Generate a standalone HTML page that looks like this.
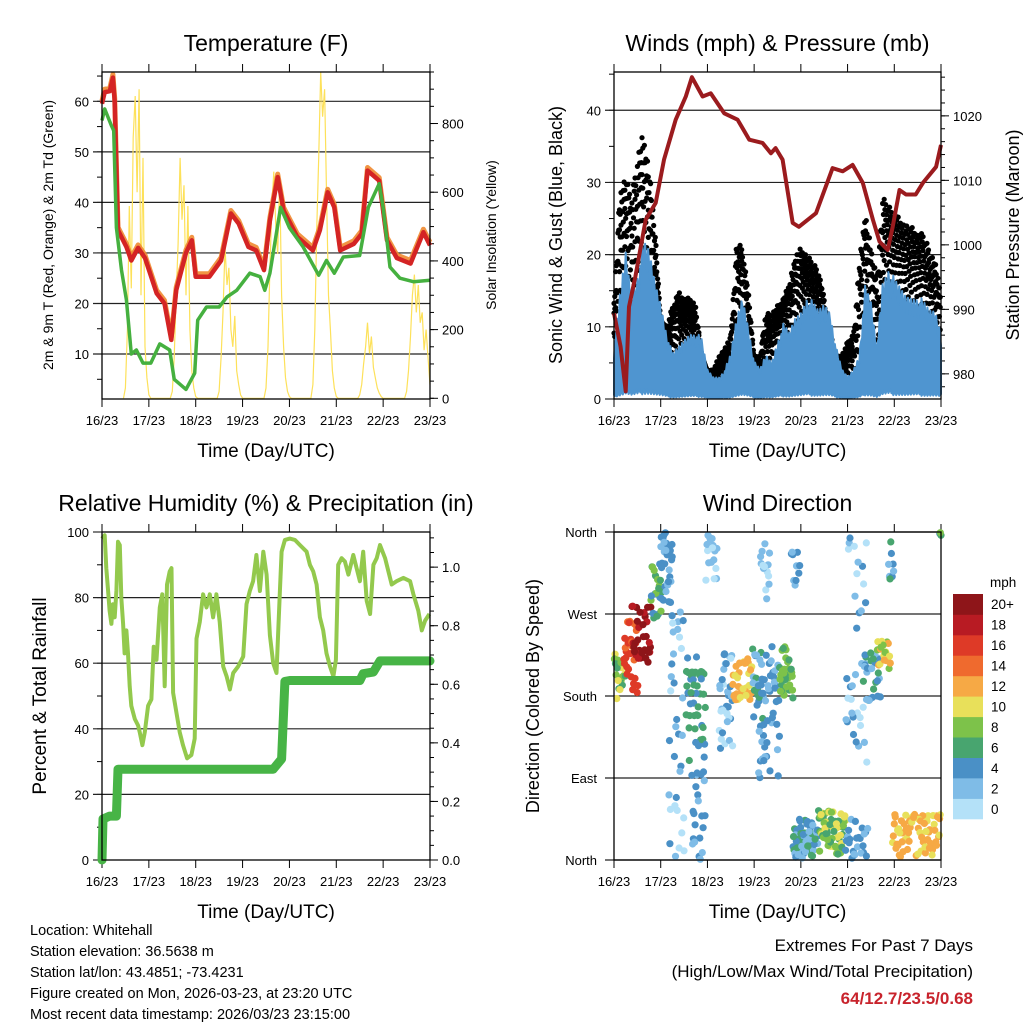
<!DOCTYPE html>
<html><head><meta charset="utf-8"><style>
html,body{margin:0;padding:0;background:#fff}
svg{display:block;font-family:"Liberation Sans",sans-serif}
</style></head><body>
<svg id="s" width="1024" height="1024" viewBox="0 0 1024 1024">
<g id="bottomtext" font-size="14.5" fill="#000">
<text x="30" y="935">Location: Whitehall</text>
<text x="30" y="956">Station elevation: 36.5638 m</text>
<text x="30" y="977">Station lat/lon: 43.4851; -73.4231</text>
<text x="30" y="998">Figure created on Mon, 2026-03-23, at 23:20 UTC</text>
<text x="30" y="1019">Most recent data timestamp: 2026/03/23 23:15:00</text>
</g>
<g text-anchor="end">
<text x="973" y="951" font-size="17">Extremes For Past 7 Days</text>
<text x="973" y="977" font-size="17">(High/Low/Max Wind/Total Precipitation)</text>
<text x="973" y="1004" font-size="17" font-weight="bold" fill="#c8232c">64/12.7/23.5/0.68</text>
</g>
</svg>
<script>
// ---------- DATA ----------
const dayLabels=["16/23","17/23","18/23","19/23","20/23","21/23","22/23","23/23"];
const tempHours=[0,1.4,4,5.6,6.5,8.2,12.5,15,18.5,22,28,32,35.5,38,43,46,48,55,61,66,70,75,79,83,86,90,93,100,108,111.6,115.6,119,122,129,133,136,139,142,146,151,158,164.6,168];
const tempVals=[59.5,61.8,62,64.7,60,34.5,31.2,28.5,31,29,22,20,12.8,22.6,30,32.5,25.3,25.3,28.5,37.8,35.8,31.2,30.5,26.6,36.4,45,38.4,33.2,30.5,34.5,42,39,30.5,31.8,33.8,46.3,45.3,44.3,32.5,29,27.9,34.1,31.5];
const tdHours=[0,1.4,4.8,6,7.4,10,12.5,15,17.6,21,25,29.6,34.7,37,43,47.5,49,53.5,60,64,69,75.7,81,83.4,86,91.5,96,103,111,115,119,123.6,132,136.4,142,144,147.5,152.6,159.5,168];
const tdVals=[56.2,58.5,55.2,54.2,35,26.6,20.7,10,10.8,8.2,8.2,12,10.8,5,3,6.2,16.7,19.3,19.3,21.3,22.6,26,25.3,22.6,26,39,35,31.2,25.6,28.5,26,29.2,29.5,39,43.7,39,27.2,25,24.3,24.6];
const solarDays=[
[0,30,200,560,320,760,880,600,900,300,700,150,60,10,0],
[0,20,120,300,450,700,520,620,300,560,200,80,30,5,0],
[0,20,120,250,440,330,380,200,150,240,80,40,10,0,0],
[0,30,150,380,560,660,500,420,640,300,150,60,20,5,0],
[0,40,200,500,700,950,820,900,600,300,200,80,30,5,0],
[0,10,40,100,150,220,130,180,90,60,30,15,5,0,0],
[0,20,80,180,300,360,250,330,220,250,140,200,120,40]];
const presHours=[0,3.4,6,7.7,11,16.3,21.4,25.7,31.7,36.9,40,45.5,49.7,56.6,63.5,69.5,76.3,80.6,83,86.6,91.8,95,103.8,112.3,117.5,122.6,127.8,133,136.4,140.6,143.2,146.7,150,155,158.7,165.5,168];
const presVals=[989.4,984.2,977.3,990.4,995.1,1003.9,1006.5,1013.2,1019.4,1023,1026,1023,1023.5,1020.4,1019.4,1016.3,1015.8,1014.2,1015,1013.2,1003.4,1002.8,1004.9,1011.9,1011.4,1012.4,1009.6,1003.9,1000.5,999.2,1002.8,1008.5,1007.8,1007.8,1009.6,1012.1,1015.5];
const windHi=[7,14,20,14,17,21,20,16,13,9,6,7,8,9,9,8,4,3,3,4,6,11,14,10,5,4,6,5,8,10,9,11,12,14,13,12,13,12,7,4,3,4,6,15,13,7,16,18,16,15,14,14,14,13,12,12,9];
const gustHi=[14,29,31,28,34,37,32,24,11,10,13,15,14,14,13,6,4,4,6,7,9,22,21,15,6,6,12,12,13,14,16,20,21,20,19,18,14,7,6,6,8,9,19,26,21,17,28,27,26,25,24,24,23,23,21,19,15];
const dirClusters=[ // [startHour,endHour,dirLow,dirHigh,speedMph,count]
[0,6,175,227,8,22],[5,13,183,263,15,30],[9,19,215,282,19,34],[19,25,263,325,6,22],
[24,30,282,360,3,30],[28,36,0,300,2,34],[37,47,109,227,5,44],[40,47,0,110,3,22],
[47,53,290,360,1,18],[54,61,120,227,2,34],[61,71,175,223,11,34],[71,77,145,235,4,24],
[74,85,90,235,3,44],[75,80,280,350,1,14],[85,92,175,235,7,34],[91,96,300,340,3,10],
[92,105,2,45,4,60],[105,119,5,55,8,60],[119,130,100,360,2,36],[119,131,2,45,3,24],
[128,137,175,230,4,26],[135,142,210,240,10,18],[141,144,290,350,4,8],[143,168,3,50,11,70],[167,168,356,360,6,3]];
const rhHours=[0,1.4,2.2,3.1,3.9,4.8,5.6,6.5,7.4,8.2,9.1,9.9,10.8,11.6,12.5,13.3,14.2,15,16.8,18.5,19.3,20.7,21.9,23.6,25.3,26.5,27.9,29.6,30.9,32.1,33.3,34.7,35.6,36.4,38.1,39.8,41.5,43.6,45.8,47.5,48.4,50.1,51.8,53.5,55.2,56.9,58.6,60.3,62.1,63.8,65.5,67.2,69.7,72.3,74,75.7,77.4,79.1,80.9,82.6,84.3,86,87.7,89.4,91.1,92,93.7,96.2,98.8,101.4,104.8,106.5,108.2,109.9,111.6,113.3,115,116.8,118.5,119.8,121,122.7,124.4,126.2,128.7,130.4,132.1,133.8,135.6,137.3,139,140.7,142.4,145,146.7,148.4,150.9,154.4,157.8,159.5,162,163.8,165.5,167.7];
const rhVals=[98,99,89,82,76,72,78,74,82,97,96,80,72,63,70,63,53,47,43,41,39,35,39,47,49,65,61,77,81,53,84,88,89,51,45,39,35,31,32,37,67.5,72.6,81,77,81,74,81,72.6,59,56,52,57,59,62,78,82,85,93,82,94,87,68.5,60,57,82,94,97.6,98,97.6,96,94,90,88,84,74,70,63,59,56,61,90,92,91,87,93,89,85,94,79,75,90,92,96,92,88,84,85,86,85,81,76,70,73,75];
const precipHours=[0,0.5,3.9,7.4,8.2,87.7,92,93.7,96.2,132.1,133.8,139,142.4,168];
const precipVals=[0,0.14,0.15,0.15,0.31,0.31,0.345,0.61,0.613,0.613,0.636,0.642,0.68,0.68];
const speedLevels=["0","2","4","6","8","10","12","14","16","18","20+"];
const speedColors=["#b4e1f8","#7fbce7","#4a90c6","#48a56f","#7dc24a","#e8e05a","#f6a945","#ef6a2e","#de3a27","#b81b23","#8e1519"];
const dirLabels=["North","East","South","West","North"];

// ---------- HELPERS ----------
const S=document.getElementById('s');
const NS='http://www.w3.org/2000/svg';
function mk(tag,at,parent){const e=document.createElementNS(NS,tag);for(const k in at)e.setAttribute(k,at[k]);(parent||S).appendChild(e);return e;}
function txt(x,y,s,size,anchor,parent,rot){const e=mk('text',{x:x,y:y,'font-size':size,'text-anchor':anchor||'middle'},parent);if(rot)e.setAttribute('transform','rotate(-90 '+x+' '+y+')');e.textContent=s;return e;}
function lin(a,b,c,d,w,col,parent){return mk('line',{x1:a,y1:b,x2:c,y2:d,stroke:col||'#000','stroke-width':w||1},parent);}
function scale(d0,d1,r0,r1){return v=>r0+(v-d0)*(r1-r0)/(d1-d0);}
function pts(xs,ys,fx,fy){return xs.map((h,i)=>fx(h).toFixed(1)+','+fy(ys[i]).toFixed(1)).join(' ');}

function panel(name,x0,x1,y0,y1,title,xlab){
  const g=mk('g',{});
  
  
  const t=txt((x0+x1)/2,y0-21,title,23,'middle',g);
  
  
  const xl=txt((x0+x1)/2,y1+58,xlab,19,'middle',g);
  
  
  const fx=scale(0,168,x0,x1);
  dayLabels.forEach((d,i)=>{const x=fx(i*24);lin(x,y1,x,y1+8,1,'#000',g);lin(x,y0,x,y0-8,1,'#000',g);
    const l=txt(x,y1+26,d,13,'middle',g);
    
    });
  return {g,fx,x0,x1,y0,y1};
}
function frame(p){mk('rect',{x:p.x0,y:p.y0,width:p.x1-p.x0,height:p.y1-p.y0,fill:'none',stroke:'#000','stroke-width':1.3},p.g);}
function leftAxis(p,fy,majors,minors,labels,grid,size){
  minors.forEach(v=>lin(p.x0-5,fy(v),p.x0,fy(v),1,'#000',p.g));
  majors.forEach((v,i)=>{const y=fy(v);
    if(grid.includes(v))lin(p.x0-9,y,p.x1,y,1.2,'#222',p.g);else lin(p.x0-9,y,p.x0,y,1,'#000',p.g);
    const l=txt(p.x0-13,y+5,labels[i],size||13,'end',p.g);
    
    });
}
function rightAxis(p,fy,majors,minors,labels){
  minors.forEach(v=>lin(p.x1,fy(v),p.x1+4,fy(v),1,'#000',p.g));
  majors.forEach((v,i)=>{const y=fy(v);lin(p.x1,y,p.x1+8,y,1,'#000',p.g);
    const l=txt(p.x1+12,y+5,labels[i],13,'start',p.g);
    
    });
}
function range(a,b,s){const r=[];for(let v=a;v<=b+1e-9;v+=s)r.push(+v.toFixed(3));return r;}
function interp(xs,ys,x){if(x<=xs[0])return ys[0];for(let i=1;i<xs.length;i++){if(x<=xs[i]){const t=(x-xs[i-1])/(xs[i]-xs[i-1]);return ys[i-1]+t*(ys[i]-ys[i-1]);}}return ys[ys.length-1];}

// ---------- TEMPERATURE ----------
(function(){
  const p=panel('temperature-panel',102,430,72,399,'Temperature (F)','Time (Day/UTC)');
  const fy=scale(1.1,65.8,399,72), fs=scale(0,950,398.3,72);
  const maj=[10,20,30,40,50,60];
  leftAxis(p,fy,maj,range(5,65,5),maj.map(String),maj);
  const rm=[0,200,400,600,800];
  rightAxis(p,fs,rm,range(0,950,50),rm.map(String));
  const sh=[],sv=[];
  solarDays.forEach((d,k)=>d.forEach((v,i)=>{sh.push(24*k+11+i);sv.push(v);}));
  const sl=mk('polyline',{points:pts(sh,sv,p.fx,fs),fill:'none',stroke:'#fde15a','stroke-width':1.2},p.g);
  
  
  const o=mk('polyline',{points:pts(tempHours,tempVals.map(v=>v+0.6),p.fx,fy),fill:'none',stroke:'#f08a30','stroke-width':5,'stroke-linejoin':'round',opacity:0.9},p.g);
  
  
  const r=mk('polyline',{points:pts(tempHours,tempVals,p.fx,fy),fill:'none',stroke:'#d42424','stroke-width':4.5,'stroke-linejoin':'round'},p.g);
  
  
  const gr=mk('polyline',{points:pts(tdHours,tdVals,p.fx,fy),fill:'none',stroke:'#45b03f','stroke-width':3.5,'stroke-linejoin':'round'},p.g);
  
  
  frame(p);
  const yl=txt(53,235,'2m & 9m T (Red, Orange) & 2m Td (Green)',14,'middle',p.g,true);
  
  
  const yr=txt(496,235,'Solar Insolation (Yellow)',14,'middle',p.g,true);
  
  
})();

// ---------- WINDS ----------
(function(){
  const p=panel('winds-panel',614,941,72,399,'Winds (mph) & Pressure (mb)','Time (Day/UTC)');
  const fy=scale(0,45.3,399,72), fp=scale(976.1,1026.8,399,72);
  const maj=[0,10,20,30,40];
  leftAxis(p,fy,maj,range(0,45,5),maj.map(String),[10,20,30,40]);
  const rm=[980,990,1000,1010,1020];
  rightAxis(p,fp,rm,range(978,1026,2),rm.map(String));
  const wh=windHi.map((v,i)=>i*3);
  const gg=mk('g',{fill:'#000'},p.g);
  
  
  let k=0;
  for(let h=0;h<=168;h+=0.4){
    const top=interp(wh,gustHi,h), base=interp(wh,windHi,h);
    for(let j=0;j<3;j++){
      k++;
      const f=Math.pow(((k*0.618034)%1),0.6);
      const v=base*0.8+(top-base*0.8)*f;
      mk('circle',{cx:p.fx(h).toFixed(1),cy:fy(v).toFixed(1),r:2.6},gg);
    }
  }
  const bh=[],bv=[],bl=[];
  for(let h=0;h<=168;h+=0.5){
    const v=interp(wh,windHi,h);
    const f=(h*7.31)%1;
    bh.push(h);bv.push(v*(0.8+0.25*f));bl.push(v*0.08*(1-f*0.6));
  }
  const btop=bh.map((h,i)=>p.fx(h).toFixed(1)+','+fy(bv[i]).toFixed(1));
  const bbot=bh.map((h,i)=>p.fx(h).toFixed(1)+','+fy(bl[i]).toFixed(1)).reverse();
  const bw=mk('polygon',{points:btop.concat(bbot).join(' '),fill:'#4f95d0',stroke:'#4f95d0','stroke-width':2,'stroke-linejoin':'round'},p.g);
  
  
  const pl=mk('polyline',{points:pts(presHours,presVals,p.fx,fp),fill:'none',stroke:'#9b1b1e','stroke-width':4,'stroke-linejoin':'round'},p.g);
  
  
  frame(p);
  const yl=txt(562,235,'Sonic Wind & Gust (Blue, Black)',18,'middle',p.g,true);
  
  
  const yr=txt(1019,235,'Station Pressure (Maroon)',18,'middle',p.g,true);
  
  
})();

// ---------- RH / PRECIP ----------
(function(){
  const p=panel('humidity-panel',102,430,532,860,'Relative Humidity (%) & Precipitation (in)','Time (Day/UTC)');
  const fy=scale(0,100,860,532), fr=scale(0,1.12,860,532);
  const maj=[0,20,40,60,80,100];
  leftAxis(p,fy,maj,range(0,100,10),maj.map(String),[20,40,60,80]);
  const rm=[0,0.2,0.4,0.6,0.8,1.0];
  rightAxis(p,fr,rm,range(0,1.1,0.05),rm.map(v=>v.toFixed(1)));
  const rh=mk('polyline',{points:pts(rhHours,rhVals,p.fx,fy),fill:'none',stroke:'#93c94d','stroke-width':4,'stroke-linejoin':'round'},p.g);
  
  
  const pr=mk('polyline',{points:pts(precipHours,precipVals,p.fx,fr),fill:'none',stroke:'#47b446','stroke-width':9,'stroke-linejoin':'round','stroke-linecap':'round'},p.g);
  
  
  frame(p);
  const yl=txt(46,696,'Percent & Total Rainfall',19,'middle',p.g,true);
  
  
})();

// ---------- WIND DIRECTION ----------
(function(){
  const p=panel('wind-direction-panel',614,941,532,860,'Wind Direction','Time (Day/UTC)');
  const fy=scale(0,360,860,532);
  const maj=[0,90,180,270,360];
  maj.forEach((v,i)=>{const y=fy(v);lin(p.x0-9,y,p.x1,y,1.2,'#222',p.g);
    const l=txt(p.x0-17,y+5,dirLabels[i],13,'end',p.g);
    
    });
  const dg=mk('g',{},p.g);
  
  
  let k=0;
  dirClusters.forEach(c=>{
    const [h0,h1,d0,d1,sp,n]=c;
    for(let i=0;i<n;i++){
      k++;
      const fa=(k*0.618034)%1, fb=(k*k*0.0917+k*0.3371)%1;
      const h=h0+(h1-h0)*fa, d=d0+(d1-d0)*fb;
      const s=Math.max(0,Math.min(10,Math.round((sp+((k%3)-1)*1.5)/2)));
      const c2=mk('circle',{cx:p.fx(h).toFixed(1),cy:fy(d).toFixed(1),r:3.6,fill:speedColors[s]},dg);
      
      
    }
  });
  frame(p);
  const yl=txt(539,696,'Direction (Colored By Speed)',18,'middle',p.g,true);
  
  
  const cb=mk('g',{});
  
  
  const bh=(819-594)/speedLevels.length;
  speedLevels.forEach((lab,i)=>{
    const y=819-(i+1)*bh;
    const r=mk('rect',{x:953,y:y.toFixed(1),width:30,height:(bh+0.3).toFixed(1),fill:speedColors[i]},cb);
    
    
    const t=txt(991,y+bh/2+5,lab,13.5,'start',cb);
    
    
  });
  const u=txt(990,587,'mph',13.5,'start',cb);
  
  
})();
</script>
</body></html>
